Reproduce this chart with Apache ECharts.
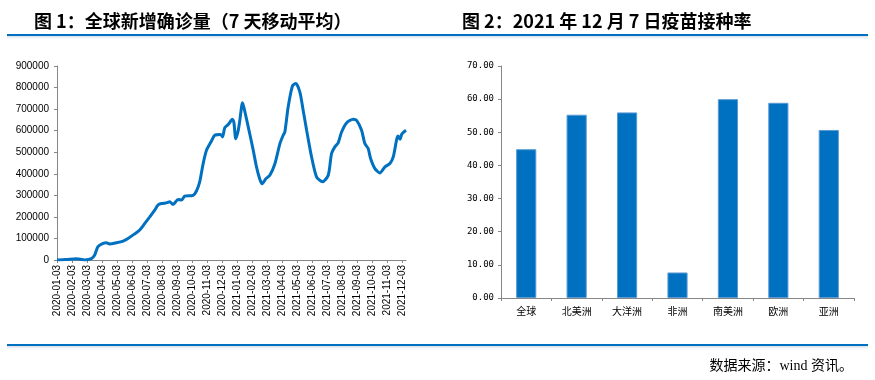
<!DOCTYPE html>
<html>
<head>
<meta charset="utf-8">
<script src="https://cdn.jsdelivr.net/npm/echarts@6/dist/echarts.min.js"></script>
<style>
html,body{margin:0;padding:0;background:#fff;}
#c{width:875px;height:380px;}
</style>
</head>
<body>
<div id="c"></div>
<script>
// Chart 1: global new confirmed cases (7-day moving average)
// x position expressed in months since 2020-01-03
const monthIdx = [0, 0.6, 1.29, 1.85, 2.29, 2.51, 2.73, 3.07, 3.29, 3.51, 3.96, 4.4, 4.73, 5.15, 5.51, 5.85, 6.18, 6.51, 6.73, 6.96, 7.29, 7.51, 7.73, 8.07, 8.29, 8.51, 9.07, 9.29, 9.51, 9.73, 9.96, 10.29, 10.51, 10.85, 10.96, 11.03, 11.18, 11.4, 11.51, 11.67, 11.78, 11.91, 12.07, 12.18, 12.36, 12.51, 12.85, 13.07, 13.29, 13.51, 13.67, 13.91, 14.18, 14.51, 14.85, 15.07, 15.18, 15.4, 15.69, 15.91, 16.18, 16.4, 16.63, 16.96, 17.29, 17.69, 18.07, 18.29, 18.51, 18.73, 18.96, 19.29, 19.73, 19.96, 20.29, 20.51, 20.73, 20.89, 21.18, 21.51, 21.85, 22.18, 22.4, 22.63, 22.73, 22.85, 22.98, 23.25];
const cases = [500, 2000, 6000, 500, 6000, 23000, 62000, 77000, 80000, 74000, 80000, 88000, 100000, 120000, 139000, 170000, 200000, 231000, 255000, 262000, 265000, 270000, 258000, 281000, 278000, 296000, 300000, 320000, 363000, 445000, 509000, 552000, 579000, 582000, 578000, 571000, 614000, 628000, 638000, 653000, 640000, 563000, 600000, 648000, 729000, 690000, 582000, 510000, 432000, 375000, 354000, 377000, 393000, 445000, 540000, 579000, 594000, 710000, 808000, 819000, 779000, 694000, 602000, 478000, 386000, 363000, 393000, 494000, 525000, 543000, 594000, 636000, 653000, 648000, 602000, 540000, 517000, 471000, 424000, 404000, 432000, 448000, 478000, 560000, 575000, 560000, 585000, 602000];
const dateTicks = ['2020-01-03','2020-02-03','2020-03-03','2020-04-03','2020-05-03','2020-06-03','2020-07-03','2020-08-03','2020-09-03','2020-10-03','2020-11-03','2020-12-03','2021-01-03','2021-02-03','2021-03-03','2021-04-03','2021-05-03','2021-06-03','2021-07-03','2021-08-03','2021-09-03','2021-10-03','2021-11-03','2021-12-03'];

// Chart 2: vaccination rate on 2021-12-07
const regions = ['全球','北美洲','大洋洲','非洲','南美洲','欧洲','亚洲'];
const vaxRate = [44.9, 55.3, 56.0, 7.7, 60.0, 58.9, 50.7];

const title1 = '图 1：全球新增确诊量（7 天移动平均）';
const title2 = '图 2：2021 年 12 月 7 日疫苗接种率';
const source = '数据来源：wind 资讯。';

const BLUE = '#0070C0';
const AXIS = '#868686';
const cjk = '"Noto Sans CJK SC", sans-serif';

const chart = echarts.init(document.getElementById('c'), null, {renderer: 'canvas'});
const tickIdx = dateTicks.map((_, i) => i);

const shadowGrad = {
  type: 'linear', x: 0, y: 0, x2: 0, y2: 1,
  colorStops: [{offset: 0, color: '#d6dfea'}, {offset: 1, color: 'rgba(255,255,255,0)'}]
};

chart.setOption({
  animation: false,
  backgroundColor: '#fff',
  title: [
    {text: title1, left: 29, top: 7, textStyle: {fontFamily: cjk, fontSize: 18, fontWeight: 'bold', color: '#000'}},
    {text: title2, left: 457, top: 7, textStyle: {fontFamily: cjk, fontSize: 18, fontWeight: 'bold', color: '#000'}},
    {text: source, right: 17, top: 354, textStyle: {fontFamily: '"Liberation Serif", "Noto Sans CJK SC", serif', fontSize: 14, fontWeight: 'normal', color: '#000'}}
  ],
  graphic: [
    {type: 'rect', shape: {x: 7, y: 36, width: 861, height: 5}, style: {fill: shadowGrad}, silent: true},
    {type: 'rect', shape: {x: 7, y: 34, width: 861, height: 2}, style: {fill: BLUE}, silent: true},
    {type: 'rect', shape: {x: 7, y: 346, width: 861, height: 5}, style: {fill: shadowGrad}, silent: true},
    {type: 'rect', shape: {x: 7, y: 344, width: 861, height: 2}, style: {fill: BLUE}, silent: true}
  ],
  grid: [
    {left: 57, top: 66, width: 349, height: 194},
    {left: 501, top: 66, width: 353, height: 232}
  ],
  xAxis: [
    {
      gridIndex: 0, type: 'value', min: 0, max: 23.25,
      axisLine: {lineStyle: {color: AXIS, width: 1}},
      axisTick: {show: true, length: 3, inside: false, customValues: tickIdx, lineStyle: {color: AXIS}},
      axisLabel: {
        customValues: tickIdx, rotate: 90, margin: 5,
        fontFamily: 'Arial, "Liberation Sans", sans-serif', fontSize: 10, color: '#000',
        formatter: v => dateTicks[Math.round(v)]
      },
      splitLine: {show: false}
    },
    {
      gridIndex: 1, type: 'category', data: regions, boundaryGap: true,
      axisLine: {lineStyle: {color: AXIS, width: 1}},
      axisTick: {show: true, length: 3, lineStyle: {color: AXIS}},
      axisLabel: {fontFamily: cjk, fontSize: 10, color: '#000', margin: 8},
      splitLine: {show: false}
    }
  ],
  yAxis: [
    {
      gridIndex: 0, type: 'value', min: 0, max: 900000, interval: 100000,
      axisLine: {show: true, lineStyle: {color: AXIS, width: 1}},
      axisTick: {show: true, length: 3, lineStyle: {color: AXIS}},
      axisLabel: {fontFamily: 'Arial, "Liberation Sans", sans-serif', fontSize: 10, color: '#000', margin: 8,
        formatter: v => String(v)},
      splitLine: {show: false}
    },
    {
      gridIndex: 1, type: 'value', min: 0, max: 70, interval: 10,
      axisLine: {show: true, lineStyle: {color: AXIS, width: 1}},
      axisTick: {show: true, length: 3, lineStyle: {color: AXIS}},
      axisLabel: {fontFamily: '"DejaVu Sans Mono", monospace', fontSize: 9, color: '#000', margin: 7,
        formatter: v => v.toFixed(2)},
      splitLine: {show: false}
    }
  ],
  series: [
    {
      type: 'line', xAxisIndex: 0, yAxisIndex: 0,
      data: monthIdx.map((m, i) => [m, cases[i]]),
      showSymbol: false, smooth: 0.25,
      lineStyle: {color: BLUE, width: 3},
      itemStyle: {color: BLUE}
    },
    {
      type: 'bar', xAxisIndex: 1, yAxisIndex: 1,
      data: vaxRate, barWidth: '40%',
      itemStyle: {color: BLUE, borderColor: '#5b9bd5', borderWidth: 1}
    }
  ]
});
</script>
</body>
</html>
